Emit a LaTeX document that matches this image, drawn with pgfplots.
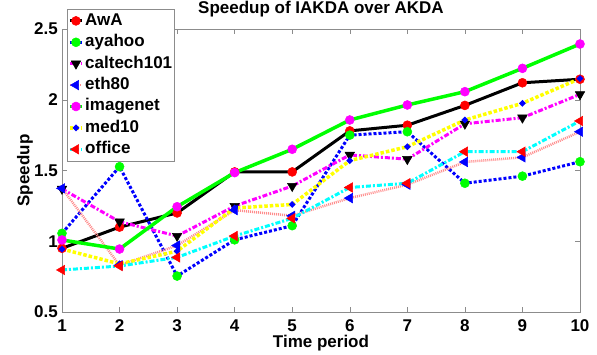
\documentclass[border=0pt]{standalone}
\usepackage{pgfplots}
\pgfplotsset{compat=1.18}
\usepackage{fontspec}
\setmainfont{Liberation Sans}
\definecolor{axgray}{RGB}{140,140,140}
\definecolor{pinkl}{RGB}{255,140,140}
\definecolor{mmag}{RGB}{255,0,255}
\definecolor{mcyan}{RGB}{0,255,255}
\definecolor{myel}{RGB}{255,255,0}
\definecolor{mgreen}{RGB}{0,255,0}
\definecolor{mred}{RGB}{255,0,0}
\definecolor{mblue}{RGB}{0,0,255}
\newcommand{\ff}{\fontsize{17}{20}\selectfont\bfseries}
\begin{document}
\begin{tikzpicture}
\useasboundingbox (0,0) rectangle (597pt,354pt);
\begin{axis}[
  at={(62pt,42pt)}, anchor=south west,
  width=518pt, height=283pt, scale only axis,
  xmin=1, xmax=10, ymin=0.5, ymax=2.5,
  xtick={1,...,10}, ytick={0.5,1,1.5,2,2.5},
  yticklabels={0.5,1,1.5,2,2.5},
  /pgf/number format/assume math mode=true,
  tick align=inside, major tick length=5pt,
  axis line style={axgray}, every tick/.style={axgray},
  tick label style={font=\ff, text=black},
  xticklabel style={anchor=base, yshift=-19pt},
  yticklabel style={anchor=east, inner xsep=4pt},
  label style={font=\ff},
  title style={font=\ff, at={(0.5,1)}, anchor=base, yshift=10pt},
  title={Speedup of IAKDA over AKDA},
  xlabel={Time period},
  xlabel style={at={(axis description cs:0.5,0)}, anchor=base, yshift=-35pt},
  ylabel={Speedup},
  ylabel style={at={(axis description cs:-0.0714,0.5)}, anchor=center},
  clip=false,
  legend style={font=\ff, at={(0.0097,1.0707)}, anchor=north west, draw=axgray, fill=white,
    inner xsep=1pt, inner ysep=1pt,
    nodes={inner xsep=1.5pt, inner ysep=2.7pt, text height=12.5pt, text depth=3.5pt}},
  legend cell align=left,
  legend image code/.code={\draw[mark repeat=2,mark phase=2,#1] plot coordinates {(0pt,0pt)(6pt,0pt)(12pt,0pt)};},
]
\addplot[black, line width=3pt, mark=*, mark size=4.5pt, mark options={solid, fill=mred, draw=mred, line width=0.5pt}]
 coordinates {(1,0.95)(2,1.10)(3,1.20)(4,1.49)(5,1.49)(6,1.78)(7,1.82)(8,1.96)(9,2.12)(10,2.145)};
\addlegendentry{AwA}
\addplot[mblue, line width=3pt, dash pattern=on 3pt off 2pt, mark=*, mark size=4.5pt, mark options={solid, fill=mgreen, draw=mgreen, line width=0.5pt}]
 coordinates {(1,1.056)(2,1.527)(3,0.754)(4,1.01)(5,1.11)(6,1.75)(7,1.774)(8,1.41)(9,1.46)(10,1.562)};
\addlegendentry{ayahoo}
\addplot[mmag, line width=3pt, dash pattern=on 5pt off 2pt on 2pt off 2pt, mark=triangle*, mark size=5.5pt, mark options={solid, fill=black, draw=black, rotate=180, line width=0.5pt}]
 coordinates {(1,1.37)(2,1.138)(3,1.037)(4,1.249)(5,1.39)(6,1.61)(7,1.58)(8,1.83)(9,1.873)(10,2.038)};
\addlegendentry{caltech101}
\addplot[pinkl, line width=2.5pt, dash pattern=on 1pt off 1pt, mark=triangle*, mark size=5.5pt, mark options={solid, fill=mblue, draw=mblue, rotate=90, line width=0.5pt}]
 coordinates {(1,1.374)(2,0.83)(3,0.97)(4,1.22)(5,1.18)(6,1.305)(7,1.40)(8,1.56)(9,1.593)(10,1.774)};
\addlegendentry{eth80}
\addplot[mgreen, line width=3.5pt, mark=*, mark size=4.5pt, mark options={solid, fill=mmag, draw=mmag, line width=0.5pt}]
 coordinates {(1,1.009)(2,0.945)(3,1.244)(4,1.485)(5,1.65)(6,1.857)(7,1.963)(8,2.057)(9,2.222)(10,2.394)};
\addlegendentry{imagenet}
\addplot[myel, line width=3.5pt, dash pattern=on 3.5pt off 2pt, mark=*, mark size=1pt, mark options={solid, fill=mblue, draw=mblue}]
 coordinates {(1,0.945)(2,0.84)(3,0.93)(4,1.235)(5,1.26)(6,1.57)(7,1.668)(8,1.857)(9,1.975)(10,2.15)};
\addlegendentry{med10}
\addplot[mcyan, line width=3pt, dash pattern=on 5pt off 2pt on 2pt off 2pt, mark=triangle*, mark size=5.5pt, mark options={solid, fill=mred, draw=mred, rotate=90, line width=0.5pt}]
 coordinates {(1,0.797)(2,0.825)(3,0.886)(4,1.037)(5,1.162)(6,1.38)(7,1.41)(8,1.633)(9,1.633)(10,1.85)};
\addlegendentry{office}
\end{axis}
\end{tikzpicture}
\end{document}
